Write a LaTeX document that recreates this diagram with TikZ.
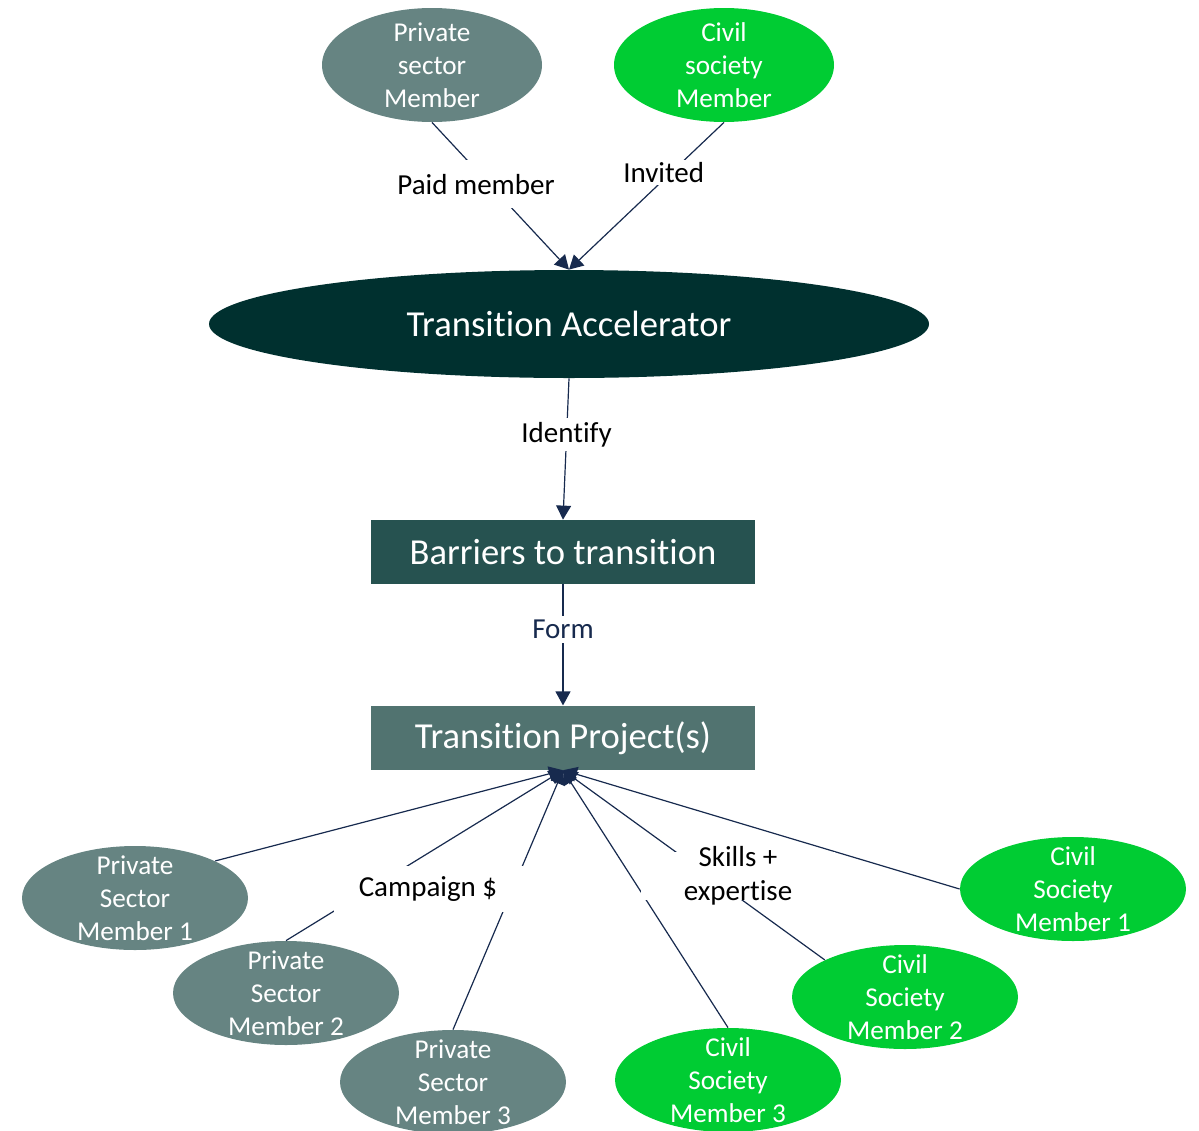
\documentclass[tikz,border=0pt]{standalone}
\usepackage{fontspec}
\setmainfont[RawFeature={-liga;-clig;-dlig;-calt}]{Carlito}
\usepackage{xcolor}
\usepackage{tikz}
\usetikzlibrary{arrows.meta}
\usetikzlibrary{shapes.geometric}
\usetikzlibrary{positioning}

\definecolor{privgray}{HTML}{668482}
\definecolor{civgreen}{HTML}{00CC33}
\definecolor{accdark}{HTML}{00302F}
\definecolor{barteal}{HTML}{265250}
\definecolor{projteal}{HTML}{517370}
\definecolor{arrnavy}{HTML}{172A4E}

\begin{document}
\begin{tikzpicture}[x=0.5pt,y=-0.5pt,>={Triangle[length=7pt,width=7.5pt]}]
	\tikzstyle{member}=[ellipse, text=white, inner xsep=0pt, inner ysep=-4pt, minimum width=113pt, minimum height=52pt, align=center, font=\fontsize{13.6}{16.5}\selectfont]
	\tikzstyle{privm}=[member, fill=privgray]
	\tikzstyle{civm}=[member, fill=civgreen]
	\tikzstyle{bigbox}=[rectangle, text=white, minimum width=192pt, minimum height=32pt, font=\fontsize{18.3}{22}\selectfont]
	\tikzstyle{lbl}=[fill=white, text=black, inner sep=2pt, align=center, font=\fontsize{14.5}{17}\selectfont]
	\tikzstyle{every edge}=[draw=arrnavy, line width=0.6pt, ->]
	\useasboundingbox (0,0) rectangle (1199,1130);
	% top members
	\node[privm, minimum width=110pt, minimum height=57pt] (psTop) at (432,65) {Private\\sector\\Member};
	\node[civm, minimum width=110pt, minimum height=57pt]  (csTop) at (724,65) {Civil\\society\\Member};
	% main chain
	\node[ellipse, fill=accdark, text=white, minimum width=360pt, minimum height=54pt, font=\fontsize{18.3}{22}\selectfont] (acc) at (569,324) {Transition Accelerator};
	\node[bigbox, fill=barteal]  (bar) at (563,552) {Barriers to transition};
	\node[bigbox, fill=projteal] (proj) [below=60.5pt of bar] {Transition Project(s)};
	% bottom members
	\node[privm] (ps1) at (135,898)  {Private\\Sector\\Member 1};
	\node[privm] (ps2) at (286,993)  {Private\\Sector\\Member 2};
	\node[privm] (ps3) at (453,1082) {Private\\Sector\\Member 3};
	\node[civm]  (cs3) at (728,1080) {Civil\\Society\\Member 3};
	\node[civm]  (cs2) at (905,997)  {Civil\\Society\\Member 2};
	\node[civm]  (cs1) at (1073,889) {Civil\\Society\\Member 1};
	\path
		(psTop.south) edge node[lbl, pos=0.42, xshift=-6.75pt, inner ysep=7pt] {Paid member} (acc.north)
		(csTop.south) edge node[lbl, pos=0.34, xshift=-3.8pt, inner ysep=1pt] {Invited} (acc.north)
		(acc.south) edge node[lbl, pos=0.4] {Identify} (bar.north)
		(bar.south) edge node[lbl, pos=0.37, text=arrnavy] {Form} (proj.north);
	\path
		(ps1.north east) edge (proj.south)
		(ps2.north) edge (proj.south)
		(ps3.north) edge (proj.south)
		(cs3.north) edge (proj.south)
		(cs2.north west) edge (proj.south)
		(cs1.west) edge (proj.south);
	\node[lbl, minimum width=94.5pt, minimum height=23pt] (campaign) at (428,889) {Campaign \$};
	\node[lbl, minimum width=97pt, inner ysep=-2.75pt] (skills) at (738,876) {Skills +\\expertise};
\end{tikzpicture}
\end{document}
